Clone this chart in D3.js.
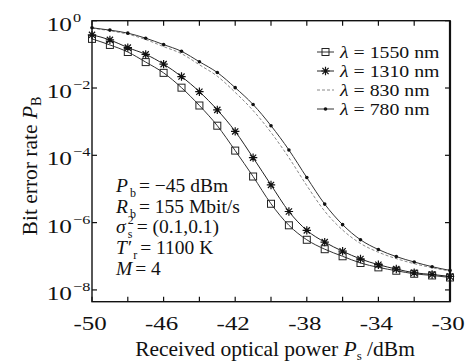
<!DOCTYPE html>
<html><head><meta charset="utf-8">
<script src="https://cdn.jsdelivr.net/npm/d3@7"></script>
<style>html,body{margin:0;padding:0;background:#fff}svg{display:block}text{font-family:"Liberation Serif","Times New Roman",serif;fill:#111}</style>
</head><body><svg id="c" width="467" height="362"></svg>
<script>
// received optical power (dBm)
const power = [-50,-49,-48,-47,-46,-45,-44,-43,-42,-41,-40,-39,-38,-37,-36,-35,-34,-33,-32,-31,-30];
// log10 of bit error rate
const ber1550 = [-0.54,-0.72,-0.93,-1.23,-1.55,-1.99,-2.52,-3.12,-3.86,-4.63,-5.44,-6.08,-6.51,-6.79,-7.0,-7.2,-7.33,-7.43,-7.52,-7.57,-7.63];
const ber1310 = [-0.42,-0.57,-0.80,-1.0,-1.29,-1.66,-2.11,-2.65,-3.29,-4.07,-4.88,-5.67,-6.23,-6.58,-6.85,-7.08,-7.25,-7.38,-7.49,-7.54,-7.6];
const ber830  = [-0.22,-0.30,-0.40,-0.56,-0.77,-0.98,-1.31,-1.65,-2.13,-2.67,-3.32,-4.07,-4.90,-5.66,-6.22,-6.62,-6.88,-7.07,-7.22,-7.34,-7.44];
const ber780  = [-0.21,-0.28,-0.37,-0.52,-0.71,-0.91,-1.22,-1.54,-1.99,-2.49,-3.12,-3.84,-4.66,-5.45,-6.06,-6.51,-6.8,-7.01,-7.17,-7.31,-7.42];
const seriesNames = ["1550","1310","830","780"];
const xTicks = [-50,-48,-46,-44,-42,-40,-38,-36,-34,-32,-30];
const xTickLabels = ["-50","","-46","","-42","","-38","","-34","","-30"];
const yTickExp = [0,-2,-4,-6,-8];

const svg = d3.select("#c");
const L=92, T=20.7, R=450, B=301.7;
const x = d3.scaleLinear().domain([-50,-30]).range([L,R]);
const y = d3.scaleLog().domain([Math.pow(10,-8.35),1]).range([B,T]);

const data = [ber1550,ber1310,ber830,ber780].map((arr,i)=>({
  name:seriesNames[i], pts: arr.map((e,j)=>({x:power[j], y:Math.pow(10,e)}))
}));

const line = d3.line().x(d=>x(d.x)).y(d=>y(d.y)).curve(d3.curveMonotoneX);
const g = svg.append("g");
const styles = {
  "1550":{stroke:"#333",w:1,dash:null},
  "1310":{stroke:"#222",w:1,dash:null},
  "830":{stroke:"#888",w:1,dash:"3,2"},
  "780":{stroke:"#333",w:1,dash:null}
};
data.forEach(s=>{
  g.append("path").attr("d",line(s.pts)).attr("fill","none")
   .attr("stroke",styles[s.name].stroke).attr("stroke-width",styles[s.name].w)
   .attr("stroke-dasharray",styles[s.name].dash);
});

function marker(sel,name,cx,cy){
  if(name==="1550"){
    sel.append("rect").attr("x",cx-3.5).attr("y",cy-3.5).attr("width",7).attr("height",7)
      .attr("fill","none").attr("stroke","#222").attr("stroke-width",1);
  } else if(name==="1310"){
    const r=4.2, r2=3.1;
    const p = `M${cx-r},${cy}L${cx+r},${cy}M${cx},${cy-r}L${cx},${cy+r}M${cx-r2},${cy-r2}L${cx+r2},${cy+r2}M${cx-r2},${cy+r2}L${cx+r2},${cy-r2}`;
    sel.append("path").attr("d",p).attr("stroke","#111").attr("stroke-width",1.2);
  } else if(name==="780"){
    sel.append("circle").attr("cx",cx).attr("cy",cy).attr("r",1.8).attr("fill","#111");
  }
}
data.forEach(s=>{
  s.pts.forEach(p=>marker(g,s.name,x(p.x),y(p.y)));
});

// frame
svg.append("rect").attr("x",L).attr("y",T).attr("width",R-L).attr("height",B-T)
  .attr("fill","none").attr("stroke","#111").attr("stroke-width",1.4);
svg.append("line").attr("x1",R).attr("x2",R).attr("y1",T).attr("y2",B).attr("stroke","#111").attr("stroke-width",2.2);

// ticks
const tk = svg.append("g").attr("stroke","#111").attr("stroke-width",1.2);
xTicks.forEach(v=>{
  tk.append("line").attr("x1",x(v)).attr("x2",x(v)).attr("y1",B).attr("y2",B-5);
  tk.append("line").attr("x1",x(v)).attr("x2",x(v)).attr("y1",T).attr("y2",T+5);
});
yTickExp.forEach(e=>{
  const yy=y(Math.pow(10,e));
  tk.append("line").attr("x1",L).attr("x2",L+5).attr("y1",yy).attr("y2",yy);
  tk.append("line").attr("x1",R).attr("x2",R-5).attr("y1",yy).attr("y2",yy);
});

// x tick labels
xTicks.forEach((v,i)=>{
  if(!xTickLabels[i]) return;
  svg.append("text").attr("transform",`translate(${x(v)-2},330) scale(1.28,1)`)
    .attr("text-anchor","middle").attr("font-size",19.5).text(xTickLabels[i]);
});
// y tick labels
yTickExp.forEach(e=>{
  const yy=y(Math.pow(10,e));
  svg.append("text").attr("transform",`translate(72,${yy+10}) scale(1.3,1)`)
    .attr("text-anchor","end").attr("font-size",19.5).text("10");
  svg.append("text").attr("transform",`translate(73,${yy+1}) scale(1.25,1)`)
    .attr("font-size",13).text(e===0?"0":"\u2212"+(-e));
});

// axis titles
const xt = svg.append("text").attr("x",275).attr("y",356).attr("text-anchor","middle").attr("font-size",21.5);
xt.append("tspan").text("Received optical power ");
xt.append("tspan").attr("font-style","italic").text("P");
xt.append("tspan").attr("font-size",13).attr("dy",4).text("s");
xt.append("tspan").attr("dy",-4).text(" /dBm");

const yt = svg.append("text").attr("transform","translate(37,166) rotate(-90)").attr("text-anchor","middle").attr("font-size",21.5);
yt.append("tspan").text("Bit error rate ");
yt.append("tspan").attr("font-style","italic").text("P");
yt.append("tspan").attr("font-size",14).attr("dy",4).text("B");

// legend
const legLabels = ["\u03bb = 1550 nm","\u03bb = 1310 nm","\u03bb = 830 nm","\u03bb = 780 nm"];
seriesNames.forEach((n,i)=>{
  const yy = 52 + i*19;
  svg.append("line").attr("x1",317).attr("x2",334).attr("y1",yy).attr("y2",yy)
    .attr("stroke",styles[n].stroke).attr("stroke-width",1).attr("stroke-dasharray",styles[n].dash);
  marker(svg,n,325.5,yy);
  const t = svg.append("text").attr("transform",`translate(340,${yy+5.5}) scale(1.2,1)`).attr("font-size",16.5);
  t.append("tspan").attr("font-style","italic").text("\u03bb");
  t.append("tspan").text(legLabels[i].slice(1));
});

// annotation: base symbol, optional sup/sub, then remaining text
const ax = 116, fs = 19.5, sfs = 12;
function ann(yy, sym, sup, sub, rest){
  const base = svg.append("text").attr("x",ax).attr("y",yy).attr("font-size",fs)
    .attr("font-style","italic").text(sym);
  let end = ax + base.node().getComputedTextLength();
  let sx = end + 2;
  let maxEnd = end;
  if(sup){
    const s = svg.append("text").attr("x",sx).attr("y",yy-9.5).attr("font-size",sfs).text(sup);
    maxEnd = Math.max(maxEnd, sx + s.node().getComputedTextLength());
  }
  if(sub){
    const s = svg.append("text").attr("x",sx).attr("y",yy+5).attr("font-size",sfs).text(sub);
    maxEnd = Math.max(maxEnd, sx + s.node().getComputedTextLength());
  }
  svg.append("text").attr("x",maxEnd+3).attr("y",yy).attr("font-size",fs).text(rest);
}
ann(192,"P",null,"b","= \u221245 dBm");
ann(212.5,"R",null,"b","= 155 Mbit/s");
ann(233,"\u03c3","2","s","= (0.1,0.1)");
ann(254,"T\u2032",null,"r","= 1100 K");
ann(275,"M",null,null,"= 4");
</script></body></html>
